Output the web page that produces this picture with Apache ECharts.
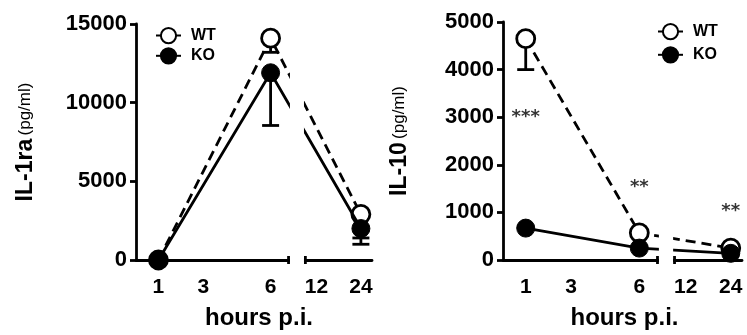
<!DOCTYPE html>
<html><head><meta charset="utf-8">
<script src="https://cdn.jsdelivr.net/npm/echarts@6/dist/echarts.min.js"></script>
<style>html,body{margin:0;padding:0;background:#fff}#c{width:747px;height:335px}</style>
</head><body><div id="c"></div>
<script>
// ---- data ----
const hours = [1, 6, 24];
const tickHours = [1, 3, 6, 12, 24];
const tickLabels = ['1', '3', '6', '12', '24'];

const il1raWT = [0, 14100, 2900];
const il1raKO = [0, 11900, 2000];
const il1raWTerrLow = [null, 13200, 1400];
const il1raKOerrLow = [null, 8550, 1000];

const il10WT = [4650, 570, 250];
const il10KO = [670, 250, 140];
const il10WTerrLow = [4000, null, null];
const il10KOerrLow = [null, null, null];
const il10Stars = ['***', '**', '**'];
const il10StarY = [2990, 1520, 1020];

// ---- broken x axis (two segments with different scales) ----
const AX = { aMax: 6.8, bMin: 9, bMax: 27, gap: 0.75, bRatio: 0.165 };
function pos(h) { return h <= AX.aMax ? h : AX.aMax + AX.gap + (h - AX.bMin) * AX.bRatio; }
const xMax = pos(AX.bMax);

const FONT = "'Liberation Sans', Arial, Helvetica, sans-serif";
const BLACK = '#000';

const panels = [
  { grid: { left: 136, right: 375, top: 24, bottom: 74 }, yMax: 15000, yInt: 5000,
    yName: '{b|IL-1ra} {r|(pg/ml)}', yNameGap: 99, xNamePad: [0, 0, 0, 10],
    wt: il1raWT, ko: il1raKO, wtLow: il1raWTerrLow, koLow: il1raKOerrLow, stars: null,
    legend: { left: 150, top: 22, itemGap: 3 } },
  { grid: { left: 503, right: 5, top: 22, bottom: 74 }, yMax: 5000, yInt: 1000,
    yName: '{b|IL-10} {r|(pg/ml)}', yNameGap: 92, xNamePad: [0, 0, 0, 4],
    wt: il10WT, ko: il10KO, wtLow: il10WTerrLow, koLow: il10KOerrLow, stars: il10Stars,
    legend: { left: 652, top: 18, itemGap: 6 } }
];

const grids = [], xAxes = [], yAxes = [], series = [], legends = [];

function errSeries(i, vals, low) {
  const data = [];
  hours.forEach((h, k) => { if (low[k] != null) data.push([pos(h), vals[k], low[k]]); });
  return {
    type: 'custom', xAxisIndex: i, yAxisIndex: i, z: 1, silent: true,
    encode: { x: 0, y: [1, 2] }, data,
    renderItem(params, api) {
      const t = api.coord([api.value(0), api.value(1)]);
      const b = api.coord([api.value(0), api.value(2)]);
      const w = 8.5;
      return { type: 'group', children: [
        { type: 'line', shape: { x1: t[0], y1: t[1], x2: b[0], y2: b[1] }, style: { stroke: BLACK, lineWidth: 2.8 } },
        { type: 'line', shape: { x1: b[0] - w, y1: b[1], x2: b[0] + w, y2: b[1] }, style: { stroke: BLACK, lineWidth: 2.8 } }
      ] };
    }
  };
}

panels.forEach((p, i) => {
  grids.push(Object.assign({ containLabel: false }, p.grid));
  xAxes.push({
    type: 'value', gridIndex: i, min: 0, max: xMax,
    name: 'hours p.i.', nameLocation: 'middle', nameGap: 46,
    nameTextStyle: { fontFamily: FONT, fontSize: 24, fontWeight: 'bold', color: BLACK, padding: p.xNamePad },
    axisLine: { show: true, onZero: false, lineStyle: { color: BLACK, width: 2.8 } },
    axisTick: { show: false },
    splitLine: { show: false },
    axisLabel: {
      customValues: tickHours.map(pos), margin: 17,
      fontFamily: FONT, fontSize: 21, fontWeight: 'bold', color: BLACK,
      formatter: v => { const k = tickHours.findIndex(h => Math.abs(pos(h) - v) < 1e-6); return k >= 0 ? tickLabels[k] : ''; }
    }
  });
  yAxes.push({
    type: 'value', gridIndex: i, min: 0, max: p.yMax, interval: p.yInt,
    name: p.yName, nameLocation: 'middle', nameGap: p.yNameGap,
    nameTextStyle: { color: BLACK, rich: {
      b: { fontFamily: FONT, fontSize: 23, fontWeight: 'bold', color: BLACK },
      r: { fontFamily: FONT, fontSize: 17, color: BLACK } } },
    axisLine: { show: true, lineStyle: { color: BLACK, width: 2.8 } },
    axisTick: { show: true, length: 6, lineStyle: { color: BLACK, width: 2.8 } },
    splitLine: { show: false },
    axisLabel: { margin: 9, fontFamily: FONT, fontSize: 22, fontWeight: 'bold', color: BLACK, formatter: v => String(v) }
  });

  series.push(errSeries(i, p.wt, p.wtLow));
  series.push(errSeries(i, p.ko, p.koLow));
  series.push({
    type: 'line', name: 'WT', xAxisIndex: i, yAxisIndex: i, z: 2,
    data: hours.map((h, k) => [pos(h), p.wt[k]]),
    symbol: 'circle', symbolSize: 18,
    lineStyle: { color: BLACK, width: 2.8, type: [10, 6] },
    itemStyle: { color: '#fff', borderColor: BLACK, borderWidth: 2.8 }
  });
  series.push({
    type: 'line', name: 'KO', xAxisIndex: i, yAxisIndex: i, z: 2.2,
    data: hours.map((h, k) => [pos(h), p.ko[k]]),
    symbol: 'circle', symbolSize: 18,
    lineStyle: { color: BLACK, width: 2.8 },
    itemStyle: { color: BLACK, borderColor: BLACK, borderWidth: 1 }
  });
  // axis break: white gap over lines and axis, with end ticks
  series.push({
    type: 'custom', xAxisIndex: i, yAxisIndex: i, z: 3, silent: true,
    encode: { x: [0, 1] },
    data: [[pos(AX.aMax), AX.aMax + AX.gap]],
    renderItem(params, api) {
      const a = api.coord([api.value(0), 0]);
      const b = api.coord([api.value(1), 0]);
      const cs = params.coordSys;
      return { type: 'group', children: [
        { type: 'rect', shape: { x: a[0] + 1.4, y: cs.y - 2, width: b[0] - a[0] - 2.8, height: a[1] - cs.y + 8 }, style: { fill: '#fff' } },
        { type: 'line', shape: { x1: a[0], y1: a[1] - 4, x2: a[0], y2: a[1] + 4 }, style: { stroke: BLACK, lineWidth: 2.8 } },
        { type: 'line', shape: { x1: b[0], y1: b[1] - 4, x2: b[0], y2: b[1] + 4 }, style: { stroke: BLACK, lineWidth: 2.8 } }
      ] };
    }
  });
  if (p.stars) {
    series.push({
      type: 'scatter', name: 'sig', xAxisIndex: i, yAxisIndex: i, z: 4, silent: true,
      symbolSize: 0,
      data: hours.map((h, k) => [pos(h), il10StarY[k], p.stars[k]]),
      label: { show: true, position: 'inside', formatter: d => d.value[2],
        fontFamily: "'DejaVu Sans', sans-serif", fontSize: 18, fontWeight: 'bold', color: BLACK, textBorderWidth: 0 }
    });
  }
  legends.push({
    data: ['WT', 'KO'], orient: 'vertical', left: p.legend.left, top: p.legend.top,
    itemGap: p.legend.itemGap, itemWidth: 25, itemHeight: 19, selectedMode: false, z: 6,
    textStyle: { fontFamily: FONT, fontSize: 16, fontWeight: 'bold', color: BLACK, padding: [0, 0, 0, 5] }
  });
});

const chart = echarts.init(document.getElementById('c'), null, { renderer: 'canvas' });
chart.setOption({
  animation: false, backgroundColor: '#fff',
  grid: grids, xAxis: xAxes, yAxis: yAxes, legend: legends, series
});
</script></body></html>
